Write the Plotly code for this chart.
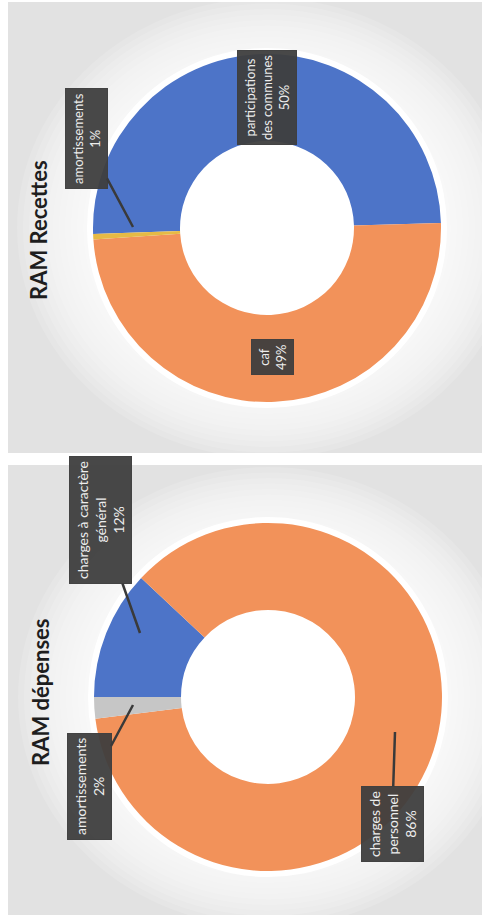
import plotly.graph_objects as go

W, H = 482, 917

# ---- data ----
rec_labels = ["participations des communes", "caf", "amortissements"]
rec_values = [50.1, 49.4, 0.5]
rec_pct = ["50%", "49%", "1%"]
rec_colors = ["#4D74C8", "#F2925A", "#E6BA45"]

dep_labels = ["charges à caractère général", "charges de personnel", "amortissements"]
dep_values = [12, 86, 2]
dep_pct = ["12%", "86%", "2%"]
dep_colors = ["#4D74C8", "#F2925A", "#C6C6C6"]

titles = ["RAM Recettes", "RAM dépenses"]


def px(x):
    return x / W


def py(y):
    return 1 - y / H


def dom(cx, cy, r):
    return dict(x=[px(cx - r), px(cx + r)], y=[py(cy + r), py(cy - r)])


fig = go.Figure()
fig.add_trace(go.Pie(
    labels=rec_labels, values=rec_values, sort=False, direction="clockwise",
    rotation=268, hole=0.5, textinfo="none", hoverinfo="label+percent",
    marker=dict(colors=rec_colors, line=dict(width=0)),
    domain=dom(267, 228, 174), showlegend=False))
fig.add_trace(go.Pie(
    labels=dep_labels, values=dep_values, sort=False, direction="clockwise",
    rotation=270, hole=0.5, textinfo="none", hoverinfo="label+percent",
    marker=dict(colors=dep_colors, line=dict(width=0)),
    domain=dom(268, 697, 174), showlegend=False))

shapes = []
# scanned panels with soft vignette
for (y0, y1, cy, cx) in [(2, 453, 228, 267), (465, 915, 697, 268)]:
    shapes.append(dict(type="rect", xref="paper", yref="paper", layer="below",
                       x0=px(8), x1=px(482), y0=py(y1), y1=py(y0),
                       fillcolor="#E2E2E2", line=dict(width=0)))
    for i in range(12):
        r = 250 - i * 6
        shapes.append(dict(type="circle", xref="paper", yref="paper", layer="below",
                           x0=px(cx - r), x1=px(cx + r),
                           y0=py(cy + r * 0.92), y1=py(cy - r * 0.92),
                           fillcolor="white", opacity=0.14, line=dict(width=0)))
    shapes.append(dict(type="circle", xref="paper", yref="paper", layer="below",
                       x0=px(cx - 180), x1=px(cx + 180),
                       y0=py(cy + 180), y1=py(cy - 180),
                       fillcolor="white", line=dict(width=0)))
    shapes.append(dict(type="rect", xref="paper", yref="paper", layer="below",
                       x0=0, x1=px(8), y0=py(y1), y1=py(y0),
                       fillcolor="white", line=dict(width=0)))
shapes.append(dict(type="rect", xref="paper", yref="paper", layer="below",
                   x0=0, x1=1, y0=py(465), y1=py(453),
                   fillcolor="white", line=dict(width=0)))
shapes.append(dict(type="rect", xref="paper", yref="paper", layer="below",
                   x0=0, x1=1, y0=py(2), y1=1,
                   fillcolor="white", line=dict(width=0)))


def box(size):
    return dict(bgcolor="rgba(62,62,62,0.95)", bordercolor="rgba(62,62,62,0.95)",
                borderpad=4,
                font=dict(family="Lato, Open Sans, sans-serif", size=size, color="#EDEDED"),
                textangle=-90, align="center", xref="paper", yref="paper",
                xanchor="center", yanchor="middle")


ann = []
for t, (tx, ty) in zip(titles, [(38, 230), (40, 692)]):
    ann.append(dict(text="<b>" + t + "</b>", x=px(tx), y=py(ty), showarrow=False,
                    textangle=-90, xref="paper", yref="paper",
                    xanchor="center", yanchor="middle",
                    font=dict(family="Lato, Open Sans, sans-serif", size=22, color="#1E1E1E")))

arrow = dict(showarrow=True, arrowhead=0, arrowwidth=2.5, arrowcolor="#3A3A3A")

# Recettes labels
ann.append(dict(text="participations<br>des communes<br>" + rec_pct[0],
                x=px(267), y=py(98), showarrow=False, **box(13)))
ann.append(dict(text="caf<br>" + rec_pct[1], x=px(272), y=py(357), showarrow=False, **box(13)))
ann.append(dict(text="amortissements<br>" + rec_pct[2], x=px(133), y=py(227),
                ax=86 - 133, ay=139 - 227, **arrow, **box(13)))

# Dépenses labels
ann.append(dict(text="charges à caractère<br>général<br>" + dep_pct[0], x=px(140), y=py(633),
                ax=100 - 140, ay=520 - 633, **arrow, **box(14)))
ann.append(dict(text="amortissements<br>" + dep_pct[2], x=px(133), y=py(705),
                ax=89 - 133, ay=787 - 705, **arrow, **box(14)))
ann.append(dict(text="charges de<br>personnel<br>" + dep_pct[1], x=px(395), y=py(732),
                ax=392 - 395, ay=824 - 732, **arrow, **box(14)))

fig.update_layout(width=W, height=H, margin=dict(l=0, r=0, t=0, b=0),
                  paper_bgcolor="white", plot_bgcolor="white",
                  shapes=shapes, annotations=ann, showlegend=False)

fig.write_html("out.html")
